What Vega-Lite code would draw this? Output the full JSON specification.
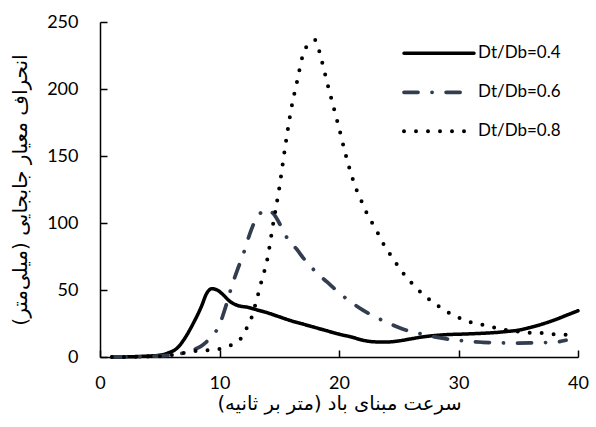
{
  "$schema": "https://vega.github.io/schema/vega-lite/v6.json",
  "width": 478,
  "height": 335,
  "autosize": {"type": "none"},
  "padding": {"left": 100, "top": 22, "right": 18, "bottom": 70},
  "background": "white",
  "config": {"view": {"stroke": null}, "font": "Lato"},
  "datasets": {
    "curves": [
      {"s": "Dt/Db=0.4", "x": 1, "y": 0}, {"s": "Dt/Db=0.4", "x": 2, "y": 0.1}, {"s": "Dt/Db=0.4", "x": 3, "y": 0.3}, {"s": "Dt/Db=0.4", "x": 4, "y": 0.7}, {"s": "Dt/Db=0.4", "x": 5, "y": 1.3}, {"s": "Dt/Db=0.4", "x": 5.7, "y": 3}, {"s": "Dt/Db=0.4", "x": 6.5, "y": 7}, {"s": "Dt/Db=0.4", "x": 7.1, "y": 14}, {"s": "Dt/Db=0.4", "x": 7.8, "y": 25}, {"s": "Dt/Db=0.4", "x": 8.5, "y": 38}, {"s": "Dt/Db=0.4", "x": 8.9, "y": 47}, {"s": "Dt/Db=0.4", "x": 9.35, "y": 51}, {"s": "Dt/Db=0.4", "x": 9.8, "y": 50}, {"s": "Dt/Db=0.4", "x": 10.3, "y": 46.5}, {"s": "Dt/Db=0.4", "x": 10.8, "y": 42}, {"s": "Dt/Db=0.4", "x": 11.5, "y": 38.5}, {"s": "Dt/Db=0.4", "x": 12.4, "y": 37}, {"s": "Dt/Db=0.4", "x": 13, "y": 35.5}, {"s": "Dt/Db=0.4", "x": 14, "y": 33}, {"s": "Dt/Db=0.4", "x": 15, "y": 30}, {"s": "Dt/Db=0.4", "x": 16, "y": 27}, {"s": "Dt/Db=0.4", "x": 17, "y": 24.5}, {"s": "Dt/Db=0.4", "x": 18, "y": 22}, {"s": "Dt/Db=0.4", "x": 19, "y": 19.5}, {"s": "Dt/Db=0.4", "x": 20, "y": 17}, {"s": "Dt/Db=0.4", "x": 21, "y": 15}, {"s": "Dt/Db=0.4", "x": 22, "y": 12.5}, {"s": "Dt/Db=0.4", "x": 23, "y": 11.3}, {"s": "Dt/Db=0.4", "x": 24, "y": 11.2}, {"s": "Dt/Db=0.4", "x": 25, "y": 12}, {"s": "Dt/Db=0.4", "x": 26, "y": 13.5}, {"s": "Dt/Db=0.4", "x": 27, "y": 15}, {"s": "Dt/Db=0.4", "x": 28, "y": 16}, {"s": "Dt/Db=0.4", "x": 29, "y": 16.7}, {"s": "Dt/Db=0.4", "x": 30, "y": 17}, {"s": "Dt/Db=0.4", "x": 31, "y": 17.3}, {"s": "Dt/Db=0.4", "x": 32, "y": 17.7}, {"s": "Dt/Db=0.4", "x": 33, "y": 18.2}, {"s": "Dt/Db=0.4", "x": 34, "y": 19}, {"s": "Dt/Db=0.4", "x": 35, "y": 20}, {"s": "Dt/Db=0.4", "x": 36, "y": 22}, {"s": "Dt/Db=0.4", "x": 37, "y": 24.5}, {"s": "Dt/Db=0.4", "x": 38, "y": 27.5}, {"s": "Dt/Db=0.4", "x": 39, "y": 31}, {"s": "Dt/Db=0.4", "x": 40, "y": 34.5},

      {"s": "Dt/Db=0.6", "x": 1, "y": 0}, {"s": "Dt/Db=0.6", "x": 3, "y": 0.3}, {"s": "Dt/Db=0.6", "x": 5, "y": 0.8}, {"s": "Dt/Db=0.6", "x": 6, "y": 1.5}, {"s": "Dt/Db=0.6", "x": 7, "y": 3}, {"s": "Dt/Db=0.6", "x": 8, "y": 6}, {"s": "Dt/Db=0.6", "x": 8.6, "y": 9}, {"s": "Dt/Db=0.6", "x": 9.2, "y": 14}, {"s": "Dt/Db=0.6", "x": 10, "y": 24}, {"s": "Dt/Db=0.6", "x": 10.5, "y": 37}, {"s": "Dt/Db=0.6", "x": 11, "y": 52}, {"s": "Dt/Db=0.6", "x": 11.5, "y": 65}, {"s": "Dt/Db=0.6", "x": 12, "y": 77}, {"s": "Dt/Db=0.6", "x": 12.5, "y": 91}, {"s": "Dt/Db=0.6", "x": 13, "y": 102}, {"s": "Dt/Db=0.6", "x": 13.5, "y": 108}, {"s": "Dt/Db=0.6", "x": 14, "y": 110}, {"s": "Dt/Db=0.6", "x": 14.5, "y": 107}, {"s": "Dt/Db=0.6", "x": 15, "y": 100}, {"s": "Dt/Db=0.6", "x": 15.5, "y": 91}, {"s": "Dt/Db=0.6", "x": 16, "y": 85}, {"s": "Dt/Db=0.6", "x": 16.5, "y": 80}, {"s": "Dt/Db=0.6", "x": 17, "y": 74}, {"s": "Dt/Db=0.6", "x": 17.5, "y": 69}, {"s": "Dt/Db=0.6", "x": 18, "y": 64}, {"s": "Dt/Db=0.6", "x": 19, "y": 56}, {"s": "Dt/Db=0.6", "x": 20, "y": 48}, {"s": "Dt/Db=0.6", "x": 21, "y": 41}, {"s": "Dt/Db=0.6", "x": 22, "y": 35}, {"s": "Dt/Db=0.6", "x": 23, "y": 30}, {"s": "Dt/Db=0.6", "x": 24, "y": 26}, {"s": "Dt/Db=0.6", "x": 25, "y": 22}, {"s": "Dt/Db=0.6", "x": 26, "y": 19}, {"s": "Dt/Db=0.6", "x": 27, "y": 17}, {"s": "Dt/Db=0.6", "x": 28, "y": 15}, {"s": "Dt/Db=0.6", "x": 29, "y": 13.5}, {"s": "Dt/Db=0.6", "x": 30, "y": 12.5}, {"s": "Dt/Db=0.6", "x": 31, "y": 11.5}, {"s": "Dt/Db=0.6", "x": 32, "y": 11}, {"s": "Dt/Db=0.6", "x": 33, "y": 10.7}, {"s": "Dt/Db=0.6", "x": 34, "y": 10.5}, {"s": "Dt/Db=0.6", "x": 35, "y": 10.4}, {"s": "Dt/Db=0.6", "x": 36, "y": 10.5}, {"s": "Dt/Db=0.6", "x": 37, "y": 10.7}, {"s": "Dt/Db=0.6", "x": 38, "y": 11}, {"s": "Dt/Db=0.6", "x": 39, "y": 12.5},

      {"s": "Dt/Db=0.8", "x": 1, "y": 0}, {"s": "Dt/Db=0.8", "x": 3, "y": 0.2}, {"s": "Dt/Db=0.8", "x": 5, "y": 0.5}, {"s": "Dt/Db=0.8", "x": 6, "y": 1.5}, {"s": "Dt/Db=0.8", "x": 7, "y": 3}, {"s": "Dt/Db=0.8", "x": 8, "y": 4.5}, {"s": "Dt/Db=0.8", "x": 9, "y": 5}, {"s": "Dt/Db=0.8", "x": 10, "y": 6}, {"s": "Dt/Db=0.8", "x": 11, "y": 9}, {"s": "Dt/Db=0.8", "x": 11.8, "y": 14}, {"s": "Dt/Db=0.8", "x": 12.3, "y": 22}, {"s": "Dt/Db=0.8", "x": 12.7, "y": 30}, {"s": "Dt/Db=0.8", "x": 13, "y": 39}, {"s": "Dt/Db=0.8", "x": 13.5, "y": 56}, {"s": "Dt/Db=0.8", "x": 14, "y": 73}, {"s": "Dt/Db=0.8", "x": 14.5, "y": 100}, {"s": "Dt/Db=0.8", "x": 15, "y": 126}, {"s": "Dt/Db=0.8", "x": 15.5, "y": 157}, {"s": "Dt/Db=0.8", "x": 16, "y": 185}, {"s": "Dt/Db=0.8", "x": 16.5, "y": 206}, {"s": "Dt/Db=0.8", "x": 17, "y": 226}, {"s": "Dt/Db=0.8", "x": 17.5, "y": 234}, {"s": "Dt/Db=0.8", "x": 18, "y": 236.5}, {"s": "Dt/Db=0.8", "x": 18.5, "y": 223}, {"s": "Dt/Db=0.8", "x": 19, "y": 205}, {"s": "Dt/Db=0.8", "x": 19.5, "y": 188}, {"s": "Dt/Db=0.8", "x": 20, "y": 171}, {"s": "Dt/Db=0.8", "x": 20.5, "y": 153}, {"s": "Dt/Db=0.8", "x": 21, "y": 137}, {"s": "Dt/Db=0.8", "x": 21.5, "y": 124}, {"s": "Dt/Db=0.8", "x": 22, "y": 114}, {"s": "Dt/Db=0.8", "x": 22.5, "y": 104}, {"s": "Dt/Db=0.8", "x": 23, "y": 97}, {"s": "Dt/Db=0.8", "x": 23.5, "y": 88}, {"s": "Dt/Db=0.8", "x": 24, "y": 80}, {"s": "Dt/Db=0.8", "x": 24.5, "y": 74}, {"s": "Dt/Db=0.8", "x": 25, "y": 67}, {"s": "Dt/Db=0.8", "x": 26, "y": 56}, {"s": "Dt/Db=0.8", "x": 27, "y": 47}, {"s": "Dt/Db=0.8", "x": 28, "y": 40}, {"s": "Dt/Db=0.8", "x": 29, "y": 34}, {"s": "Dt/Db=0.8", "x": 30, "y": 29.5}, {"s": "Dt/Db=0.8", "x": 31, "y": 26}, {"s": "Dt/Db=0.8", "x": 32, "y": 24}, {"s": "Dt/Db=0.8", "x": 33, "y": 22}, {"s": "Dt/Db=0.8", "x": 34, "y": 20}, {"s": "Dt/Db=0.8", "x": 35, "y": 19}, {"s": "Dt/Db=0.8", "x": 36, "y": 18}, {"s": "Dt/Db=0.8", "x": 37, "y": 18}, {"s": "Dt/Db=0.8", "x": 38, "y": 17}, {"s": "Dt/Db=0.8", "x": 39, "y": 16.5}
    ]
  },
  "layer": [
    {
      "mark": {"type": "rule", "color": "#a6a6a6", "strokeWidth": 2},
      "encoding": {"y": {"datum": 250, "type": "quantitative", "scale": {"domain": [0, 250], "nice": false}}}
    },
    {
      "data": {"name": "curves"},
      "mark": {"type": "line", "strokeCap": "round", "strokeJoin": "round", "interpolate": "monotone"},
      "encoding": {
        "x": {
          "field": "x", "type": "quantitative",
          "scale": {"domain": [0, 40], "nice": false},
          "axis": {
            "values": [0, 10, 20, 30, 40], "grid": false, "labelFlush": false,
            "title": "سرعت مبنای باد (متر بر ثانیه)",
            "domainColor": "black", "domainWidth": 1.5,
            "tickColor": "black", "tickWidth": 1.5, "tickSize": -7,
            "labelFont": "Lato", "labelFontSize": 18, "labelColor": "black", "labelPadding": 24,
            "titleFont": "DejaVu Sans", "titleFontSize": 19.5, "titleFontWeight": "normal", "titleColor": "black", "titlePadding": 2
          }
        },
        "y": {
          "field": "y", "type": "quantitative",
          "scale": {"domain": [0, 250], "nice": false},
          "axis": {
            "values": [0, 50, 100, 150, 200, 250], "grid": false,
            "title": "انحراف معیار جابجایی (میلی‌متر)",
            "domainColor": "black", "domainWidth": 1.5,
            "tickColor": "black", "tickWidth": 1.5, "tickSize": -7,
            "labelFont": "Lato", "labelFontSize": 18, "labelColor": "black", "labelPadding": 29,
            "titleFont": "DejaVu Sans", "titleFontSize": 20, "titleFontWeight": "normal", "titleColor": "black", "titlePadding": 16
          }
        },
        "color": {
          "field": "s", "type": "nominal",
          "scale": {"domain": ["Dt/Db=0.4", "Dt/Db=0.6", "Dt/Db=0.8"], "range": ["#000000", "#323e4f", "#000000"]},
          "legend": {
            "title": null, "orient": "none", "legendX": 302, "legendY": 12,
            "symbolType": "stroke", "symbolSize": 4900, "labelFont": "Lato", "labelFontSize": 17, "labelColor": "black",
            "labelOffset": 2, "rowPadding": 0, "clipHeight": 38.5,
            "encode": {"symbols": {"update": {"strokeCap": {"value": "round"}}}}
          }
        },
        "strokeDash": {
          "field": "s", "type": "nominal",
          "scale": {"domain": ["Dt/Db=0.4", "Dt/Db=0.6", "Dt/Db=0.8"], "range": [[1, 0], [14, 14, 0.1, 14], [0, 12]]},
          "legend": {"title": null}
        },
        "strokeWidth": {
          "field": "s", "type": "nominal",
          "scale": {"domain": ["Dt/Db=0.4", "Dt/Db=0.6", "Dt/Db=0.8"], "range": [3.5, 4, 5.5]},
          "legend": {"title": null}
        }
      }
    }
  ]
}
